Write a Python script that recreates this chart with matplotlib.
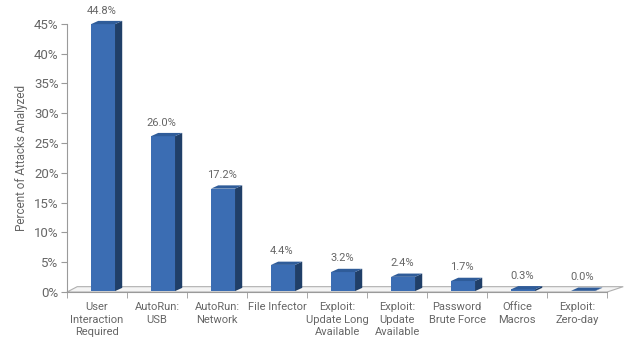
import matplotlib.pyplot as plt
from matplotlib.patches import Polygon
from matplotlib.ticker import FuncFormatter, FixedLocator

# data
categories = ["User\nInteraction\nRequired", "AutoRun:\nUSB", "AutoRun:\nNetwork",
              "File Infector", "Exploit:\nUpdate Long\nAvailable", "Exploit:\nUpdate\nAvailable",
              "Password\nBrute Force", "Office\nMacros", "Exploit:\nZero-day"]
percents = [44.8, 26.0, 17.2, 4.4, 3.2, 2.4, 1.7, 0.3, 0.0]

plt.rcParams['font.family'] = ['Roboto', 'DejaVu Sans']

front_col = "#3b6db3"
side_col = "#203f68"
top_col = "#2f5c99"
text_col = "#666666"
axis_col = "#9a9a9a"

fig = plt.figure(figsize=(6.4, 3.51), dpi=100)
ax = fig.add_axes([0.1047, 0.168, 0.8438, 0.764])

width = 0.40
shift = 0.10    # bar sits a bit right of category center
dx = 0.12       # depth offset (x, data units)
dy = 0.55       # depth offset (y, data units)

# floor
n = len(categories)
floor = Polygon([(-0.5, 0), (n - 0.5, 0), (n - 0.5 + 0.27, 0.9), (-0.5 + 0.17, 0.9)],
                closed=True, facecolor="#f4f4f4", edgecolor="#b0b0b0", lw=0.8,
                clip_on=False, zorder=1)
ax.add_patch(floor)

for i, v in enumerate(percents):
    x0 = i + shift - width / 2
    x1 = x0 + width
    h = max(v, 0.05)
    ax.bar(i + shift, h, width=width, bottom=0.15, color=front_col, zorder=3)
    side = Polygon([(x1, 0.15), (x1 + dx, 0.15 + dy), (x1 + dx, h + 0.15 + dy), (x1, h + 0.15)],
                   closed=True, facecolor=side_col, edgecolor="none", zorder=3, clip_on=False)
    top = Polygon([(x0, h + 0.15), (x1, h + 0.15), (x1 + dx, h + 0.15 + dy), (x0 + dx, h + 0.15 + dy)],
                  closed=True, facecolor=top_col, edgecolor="none", zorder=3, clip_on=False)
    ax.add_patch(side)
    ax.add_patch(top)
    ax.text(i + shift - 0.02, v + 1.6, "%.1f%%" % v, ha="center", va="bottom",
            fontsize=8, color=text_col, clip_on=False)

ax.set_xlim(-0.5, n - 0.5)
ax.set_ylim(0, 45)
ax.set_yticks(range(0, 46, 5))
ax.yaxis.set_major_formatter(FuncFormatter(lambda y, p: "%d%%" % y))
ax.set_xticks(range(n))
ax.set_xticklabels(categories, fontsize=8, color=text_col, linespacing=1.35)
ax.xaxis.set_minor_locator(FixedLocator([k + 0.5 for k in range(-1, n)]))
ax.tick_params(axis="x", which="major", length=0, pad=7)
ax.tick_params(axis="x", which="minor", length=4, color=axis_col)
ax.tick_params(axis="y", length=4, color=axis_col, labelcolor=text_col, labelsize=9.5, pad=2)
ax.set_ylabel("Percent of Attacks Analyzed", fontsize=8.5, color=text_col, labelpad=4)

for s in ["top", "right"]:
    ax.spines[s].set_visible(False)
ax.spines["left"].set_color(axis_col)
ax.spines["bottom"].set_color(axis_col)

fig.savefig("out.png", dpi=100)
